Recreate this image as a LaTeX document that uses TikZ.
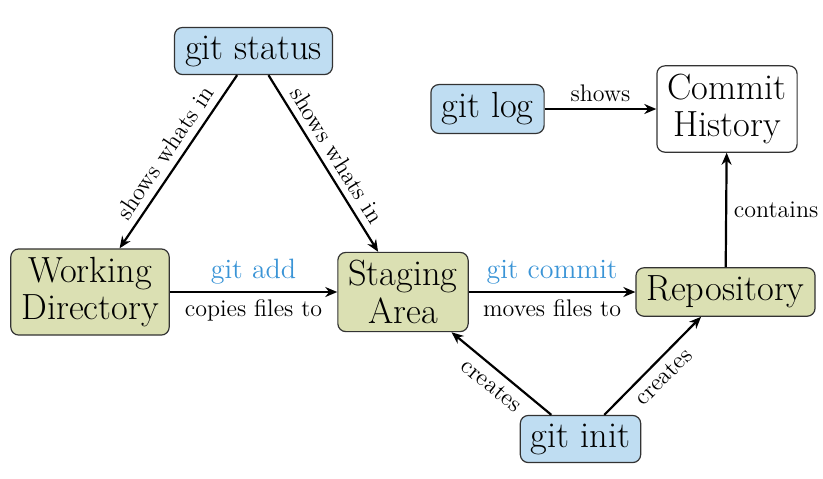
\documentclass[tikz,border=0pt]{standalone}
\usepackage{fontspec}
\usetikzlibrary{arrows.meta}
\definecolor{cmdblue}{HTML}{BFDDF2}
\definecolor{areagreen}{HTML}{DBE0B3}
\definecolor{labelblue}{HTML}{3A94D6}
\definecolor{boxline}{HTML}{333333}
\tikzset{
  base/.style={draw=boxline, line width=0.6pt, rounded corners=4pt, align=center,
    inner xsep=5.25pt, inner ysep=4.05pt, font=\fontsize{18.2}{18.65}\selectfont},
  cmd/.style={base, fill=cmdblue},
  area/.style={base, fill=areagreen},
  plain/.style={base, fill=white},
  conn/.style={-{Stealth[length=6pt,width=5pt]}, line width=1.1pt},
  lbl/.style={font=\fontsize{12}{14}\selectfont},
  cmdlbl/.style={font=\fontsize{14}{16}\selectfont, text=labelblue}
}
\begin{document}
\begin{tikzpicture}[x=0.5pt,y=0.5pt]
\useasboundingbox (0,0) rectangle (823,-478);
\node[cmd]   (status) at (253.5,-51) {git status};
\node[cmd]   (log)    at (487.5,-109) {git log};
\node[plain] (hist)   at (727,-109) {Commit\\History};
\node[area]  (wd)     at (90,-292) {Working\\Directory};
\node[area]  (stage)  at (403,-292) {Staging\\Area};
\node[area]  (repo)   at (725.5,-292) {Repository};
\node[cmd]   (init)   at (580.5,-439) {git init};

\draw[conn] (status) -- node[lbl, sloped, above] {shows whats in} (wd);
\draw[conn] (status) -- node[lbl, sloped, above] {shows whats in} (stage);
\draw[conn] (wd) -- node[cmdlbl, above] {git add} node[lbl, below] {copies files to} (stage);
\draw[conn] (stage) -- node[cmdlbl, above] {git commit} node[lbl, below] {moves files to} (repo);
\draw[conn] (log) -- node[lbl, above] {shows} (hist);
\draw[conn] (repo) -- node[lbl, right] {contains} (hist);
\draw[conn] (init) -- node[lbl, sloped, below] {creates} (stage);
\draw[conn] (init) -- node[lbl, sloped, below] {creates} (repo);
\end{tikzpicture}
\end{document}
